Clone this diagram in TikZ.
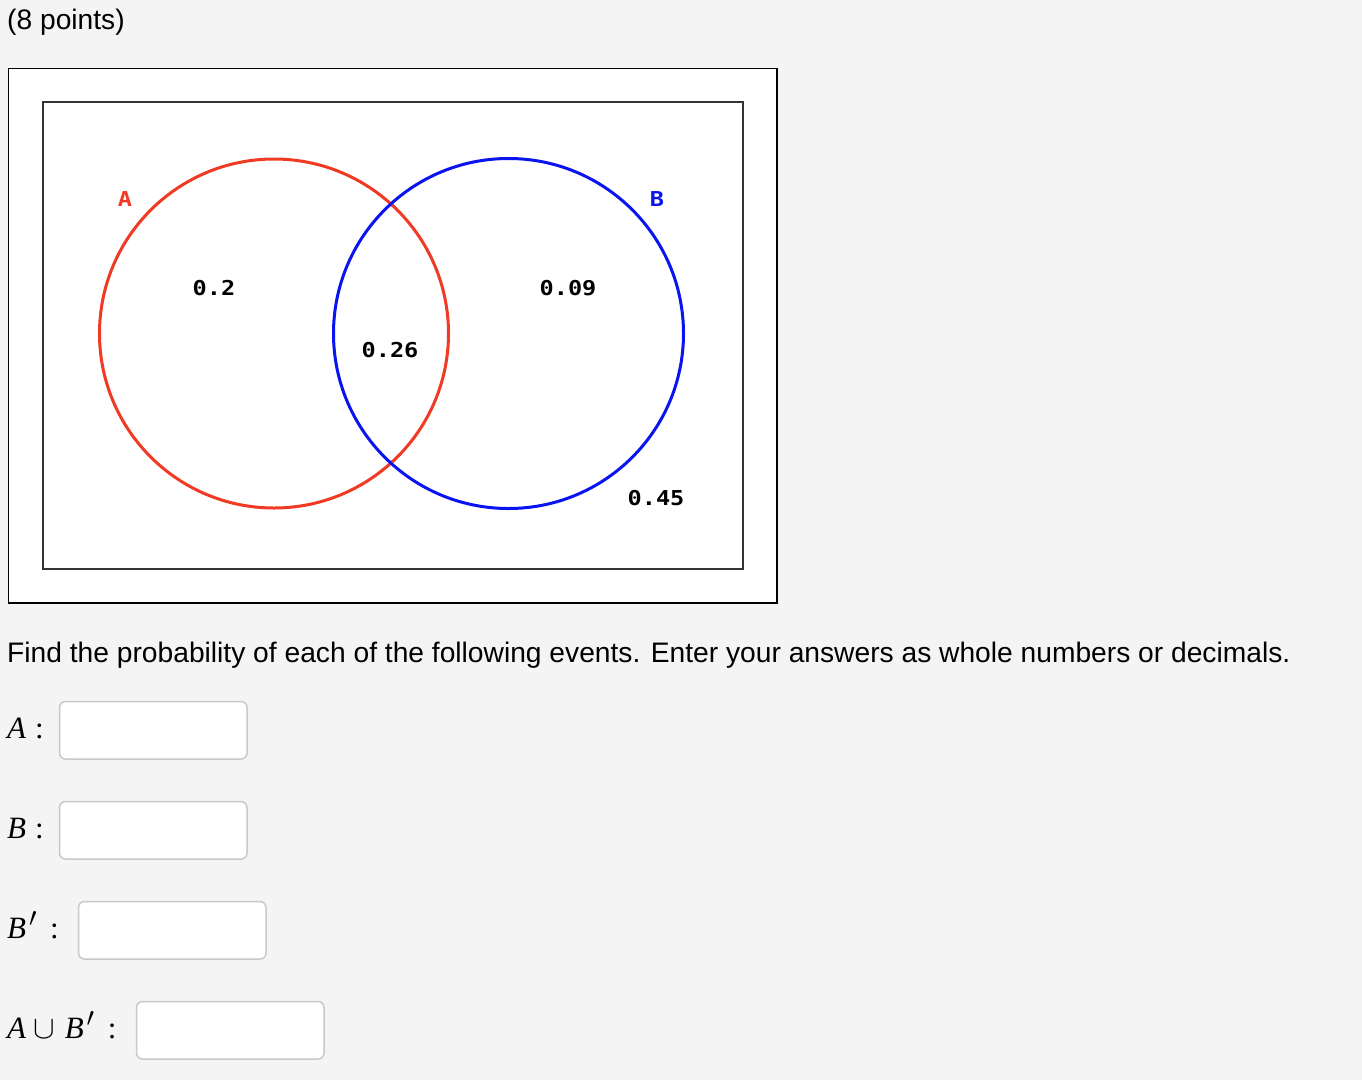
\documentclass[tikz,border=0pt]{standalone}
\usepackage{fontspec}
\setmainfont{Liberation Sans}
\newfontfamily\tms{Liberation Serif}
\newfontfamily\mono{DejaVu Sans Mono}
\definecolor{bg}{HTML}{F4F4F4}
\definecolor{vred}{HTML}{F03A24}
\definecolor{vblue}{HTML}{0A14F0}
\definecolor{boxgrey}{HTML}{C9C9C9}
\tikzset{
  sans/.style={inner sep=0pt, font=\fontsize{28.2}{32}\selectfont, text=black},
  vlab/.style={inner sep=0pt, font=\mono\bfseries\fontsize{20.5}{24}\selectfont},
  mlab/.style={inner sep=0pt, anchor=base west, font=\tms\fontsize{31}{36}\selectfont},
  inbox/.style={draw=boxgrey, line width=1.5pt, fill=white, rounded corners=6pt},
}
\begin{document}
\begin{tikzpicture}[x=1pt,y=-1pt]
\useasboundingbox (0,0) rectangle (1362,1080);
\fill[bg] (0,0) rectangle (1362,1080);
\node[sans, anchor=base west] (title) at (7,29) {(8 points)};
% figure frames
\draw[black, line width=1.5pt, fill=white] (8.5,68.5) rectangle (777,603) coordinate (outer);
\draw[black!80, line width=2pt] (42.5,101.5) rectangle (743,569) coordinate (inner);
% circles
\draw[vred, line width=3pt] (274,333.5) circle (174.5);
\draw[vblue, line width=3pt] (508.5,333.5) circle (175);
\node[vlab, text=vred] (la) at (125,199) {\scalebox{1.15}[1]{A}};
\node[vlab, text=vblue] (lb) at (657,199) {\scalebox{1.15}[1]{B}};
\node[vlab] (v1) at (214,288) {\scalebox{1.15}[1]{0.2}};
\node[vlab] (v2) at (568,288) {\scalebox{1.15}[1]{0.09}};
\node[vlab] (v3) at (390,350) {\scalebox{1.15}[1]{0.26}};
\node[vlab] (v4) at (656,498) {\scalebox{1.15}[1]{0.45}};
% question
\node[sans, anchor=base west] (q) at (7,662) {Find the probability of each of the following events. Enter your answers as whole numbers or decimals.};
% answer rows
\node[mlab] (ma) at (7,738) {\textit{A}\hspace{9pt}:};
\draw[inbox] (59.5,701.5) rectangle (247,759) coordinate (ba);
\node[mlab] (mb) at (7,838) {\textit{B}\hspace{9pt}:};
\draw[inbox] (59.5,801.5) rectangle (247,859) coordinate (bb);
\node[mlab] (mbp) at (7,938) {\textit{B}\hspace{3pt}\scalebox{1.3}{$'$}\hspace{13pt}:};
\draw[inbox] (78.5,901.5) rectangle (266,959) coordinate (bbp);
\node[mlab] (mabp) at (7,1038) {\textit{A}\hspace{7pt}\scalebox{1.3}{$\cup$}\hspace{10pt}\textit{B}\hspace{3pt}\scalebox{1.3}{$'$}\hspace{13pt}:};
\draw[inbox] (136.5,1001.5) rectangle (324,1059) coordinate (babp);
\end{tikzpicture}
\end{document}
